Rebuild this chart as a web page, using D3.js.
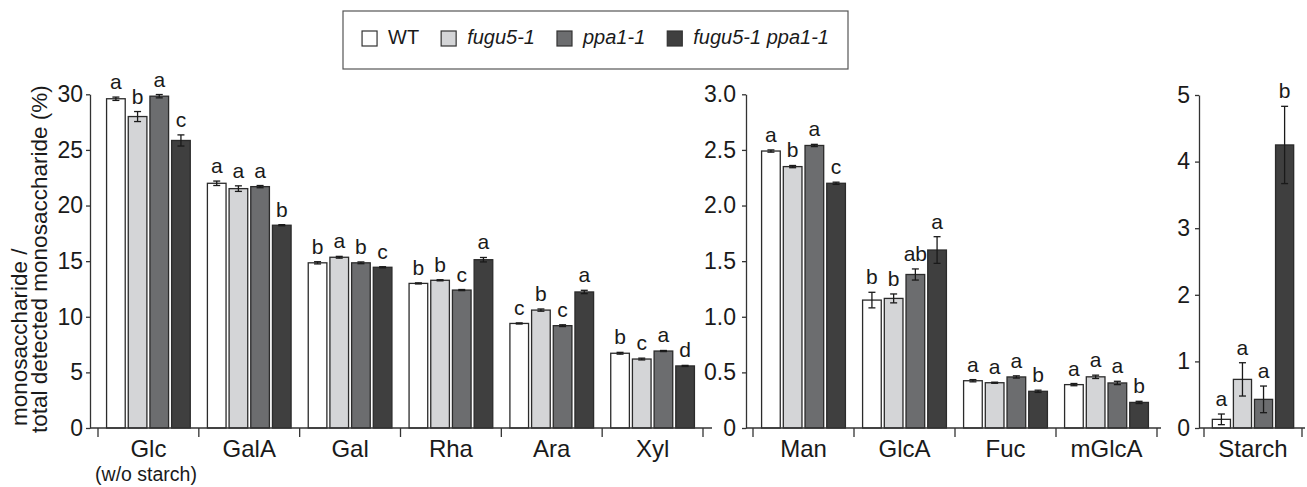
<!DOCTYPE html>
<html>
<head>
<meta charset="utf-8">
<script src="https://cdn.jsdelivr.net/npm/d3@7/dist/d3.min.js"></script>
<style>
  body { margin: 0; background: #fff; }
  text { font-family: "Liberation Sans", Arial, Helvetica, sans-serif; fill: #1a1a1a; }
</style>
</head>
<body>
<script>
// genotypes (series) and their fills
var groups = ["WT", "fugu5-1", "ppa1-1", "fugu5-1 ppa1-1"];
var groupItalic = [false, true, true, true];
var groupFills = ["#ffffff", "#d4d5d7", "#6c6d6f", "#3f3f3f"];

// left panel: major sugars (%)
var catsMajor = ["Glc", "GalA", "Gal", "Rha", "Ara", "Xyl"];
var wtMajor   = [29.6, 22.0, 14.85, 13.0, 9.4, 6.72];
var fuguMajor = [28.0, 21.52, 15.35, 13.28, 10.6, 6.2];
var ppaMajor  = [29.83, 21.7, 14.85, 12.4, 9.2, 6.92];
var dblMajor  = [25.85, 18.23, 14.45, 15.13, 12.23, 5.58];
var wtMajorErr   = [0.15, 0.2, 0.1, 0.05, 0.05, 0.08];
var fuguMajorErr = [0.45, 0.25, 0.08, 0.05, 0.1, 0.08];
var ppaMajorErr  = [0.15, 0.1, 0.08, 0.05, 0.08, 0.05];
var dblMajorErr  = [0.5, 0.05, 0.05, 0.2, 0.15, 0.05];
var lettersMajor = [["a","b","a","c"], ["a","a","a","b"], ["b","a","b","c"],
                    ["b","b","c","a"], ["c","b","c","a"], ["b","c","a","d"]];
var ticksMajor = [0, 5, 10, 15, 20, 25, 30];

// middle panel: minor sugars (%)
var catsMinor = ["Man", "GlcA", "Fuc", "mGlcA"];
var wtMinor   = [2.49, 1.15, 0.425, 0.39];
var fuguMinor = [2.35, 1.165, 0.407, 0.46];
var ppaMinor  = [2.54, 1.38, 0.459, 0.405];
var dblMinor  = [2.2, 1.6, 0.33, 0.23];
var wtMinorErr   = [0.01, 0.07, 0.01, 0.01];
var fuguMinorErr = [0.01, 0.04, 0.005, 0.015];
var ppaMinorErr  = [0.01, 0.05, 0.01, 0.015];
var dblMinorErr  = [0.01, 0.12, 0.01, 0.01];
var lettersMinor = [["a","b","a","c"], ["b","b","ab","a"], ["a","a","a","b"], ["a","a","a","b"]];
var ticksMinor = [0, 0.5, 1.0, 1.5, 2.0, 2.5, 3.0];

// right panel: starch (%)
var catsStarch = ["Starch"];
var wtStarch   = [0.13];
var fuguStarch = [0.73];
var ppaStarch  = [0.43];
var dblStarch  = [4.25];
var wtStarchErr   = [0.08];
var fuguStarchErr = [0.25];
var ppaStarchErr  = [0.2];
var dblStarchErr  = [0.58];
var lettersStarch = [["a","a","a","b"]];
var ticksStarch = [0, 1, 2, 3, 4, 5];

var W = 1307, H = 487;
var base = 428;

var svg = d3.select("body").append("svg")
	.attr("width", W)
	.attr("height", H);

function draw_panel(p){
	var y = d3.scaleLinear().domain([0, p.ticks[p.ticks.length-1]]).range([base, p.yTop]);
	var x0 = d3.scaleBand().domain(p.cats).range([p.bandStart, p.bandEnd]);
	var bw = x0.bandwidth();
	var x1 = d3.scaleBand().domain(groups).range([bw*0.085, bw*0.915]).paddingInner(0.14);
	var g = svg.append("g");

	var rows = [];
	p.cats.forEach(function(c, i){
		groups.forEach(function(s, j){
			rows.push({c: c, s: s, j: j, v: p.values[j][i], e: p.errors[j][i], l: p.letters[i][j]});
		});
	});

	// bars
	g.selectAll(".bar").data(rows).enter().append("rect")
		.attr("x", function(d){ return x0(d.c) + x1(d.s); })
		.attr("y", function(d){ return y(d.v); })
		.attr("width", x1.bandwidth())
		.attr("height", function(d){ return y(0) - y(d.v); })
		.attr("fill", function(d){ return groupFills[d.j]; })
		.attr("stroke", "#2b2b2b")
		.attr("stroke-width", 1.3);

	// error bars
	var eb = g.selectAll(".err").data(rows).enter().append("g")
		.attr("stroke", "#1a1a1a").attr("stroke-width", 1.3);
	function cx(d){ return x0(d.c) + x1(d.s) + x1.bandwidth()/2; }
	eb.append("line")
		.attr("x1", cx).attr("x2", cx)
		.attr("y1", function(d){ return y(d.v - d.e); })
		.attr("y2", function(d){ return y(d.v + d.e); });
	eb.append("line")
		.attr("x1", function(d){ return cx(d) - 3.5; }).attr("x2", function(d){ return cx(d) + 3.5; })
		.attr("y1", function(d){ return y(d.v + d.e); })
		.attr("y2", function(d){ return y(d.v + d.e); });
	eb.append("line")
		.attr("x1", function(d){ return cx(d) - 3.5; }).attr("x2", function(d){ return cx(d) + 3.5; })
		.attr("y1", function(d){ return y(d.v - d.e); })
		.attr("y2", function(d){ return y(d.v - d.e); });

	// significance letters
	g.selectAll(".lett").data(rows).enter().append("text")
		.attr("x", cx)
		.attr("y", function(d){ return y(d.v + d.e) - 8; })
		.attr("text-anchor", "middle")
		.style("font-size", "21px")
		.text(function(d){ return d.l; });

	// y axis
	var ya = g.append("g")
		.attr("transform", "translate(" + p.axisX + ",0)")
		.call(d3.axisLeft(y).tickValues(p.ticks).tickFormat(p.fmt)
			.tickSize(4).tickSizeOuter(0).tickPadding(p.pad));
	ya.selectAll("path, line").attr("stroke", "#333").attr("stroke-width", 1.3);
	ya.selectAll("text").style("font-size", "23px").attr("fill", "#1a1a1a")
		.style("font-family", "'Liberation Sans', Arial, sans-serif");

	// x axis baseline and band separators
	g.append("line")
		.attr("x1", p.axisX).attr("x2", p.lineEnd)
		.attr("y1", base).attr("y2", base)
		.attr("stroke", "#333").attr("stroke-width", 1.3);
	var edges = p.cats.map(function(c){ return x0(c); }).concat([x0.range()[1]]);
	g.selectAll(".sep").data(edges).enter().append("line")
		.attr("x1", function(d){ return d; }).attr("x2", function(d){ return d; })
		.attr("y1", base).attr("y2", base + 9)
		.attr("stroke", "#333").attr("stroke-width", 1.3);

	g.selectAll(".cat").data(p.cats).enter().append("text")
		.attr("x", function(c){ return x0(c) + bw/2; })
		.attr("y", 457)
		.attr("text-anchor", "middle")
		.style("font-size", "24px")
		.text(function(c){ return c; });
}

function fmt_int(d){ return d3.format("d")(d); }
function fmt_one(d){ return d === 0 ? "0" : d3.format(".1f")(d); }

draw_panel({
	cats: catsMajor,
	values: [wtMajor, fuguMajor, ppaMajor, dblMajor],
	errors: [wtMajorErr, fuguMajorErr, ppaMajorErr, dblMajorErr],
	letters: lettersMajor,
	ticks: ticksMajor, fmt: fmt_int, pad: 3,
	yTop: 94.3, axisX: 90, bandStart: 98, bandEnd: 703, lineEnd: 712
});
draw_panel({
	cats: catsMinor,
	values: [wtMinor, fuguMinor, ppaMinor, dblMinor],
	errors: [wtMinorErr, fuguMinorErr, ppaMinorErr, dblMinorErr],
	letters: lettersMinor,
	ticks: ticksMinor, fmt: fmt_one, pad: 6,
	yTop: 94.3, axisX: 746, bandStart: 753, bandEnd: 1157, lineEnd: 1161
});
draw_panel({
	cats: catsStarch,
	values: [wtStarch, fuguStarch, ppaStarch, dblStarch],
	errors: [wtStarchErr, fuguStarchErr, ppaStarchErr, dblStarchErr],
	letters: lettersStarch,
	ticks: ticksStarch, fmt: fmt_int, pad: 5,
	yTop: 95, axisX: 1199, bandStart: 1204, bandEnd: 1302, lineEnd: 1305
});

// sub label under Glc
svg.append("text")
	.attr("x", 146).attr("y", 481)
	.attr("text-anchor", "middle")
	.style("font-size", "19.5px")
	.text("(w/o starch)");

// y axis title
svg.append("text")
	.attr("transform", "translate(27,426) rotate(-90)")
	.style("font-size", "22.5px")
	.text("monosaccharide /");
svg.append("text")
	.attr("transform", "translate(47,433) rotate(-90)")
	.style("font-size", "22.5px")
	.text("total detected monosaccharide (%)");

// legend
var leg = svg.append("g");
leg.append("rect")
	.attr("x", 343).attr("y", 11).attr("width", 505).attr("height", 58)
	.attr("fill", "none").attr("stroke", "#555").attr("stroke-width", 1.2);
var items = leg.selectAll(".item").data(groups).enter().append("g");
items.append("rect")
	.attr("width", 15).attr("height", 15).attr("y", 31)
	.attr("fill", function(d, i){ return groupFills[i]; })
	.attr("stroke", "#333").attr("stroke-width", 1.2);
items.append("text")
	.attr("x", 26).attr("y", 44)
	.style("font-size", "20px")
	.style("font-style", function(d, i){ return groupItalic[i] ? "italic" : "normal"; })
	.text(function(d){ return d; });
var widths = [];
items.each(function(){ widths.push(26 + d3.select(this).select("text").node().getComputedTextLength()); });
var gap = 22;
var total = d3.sum(widths) + gap*(widths.length-1);
var cur = 343 + 505/2 - total/2;
items.attr("transform", function(d, i){
	var t = "translate(" + cur + ",0)";
	cur += widths[i] + gap;
	return t;
});
</script>
</body>
</html>
